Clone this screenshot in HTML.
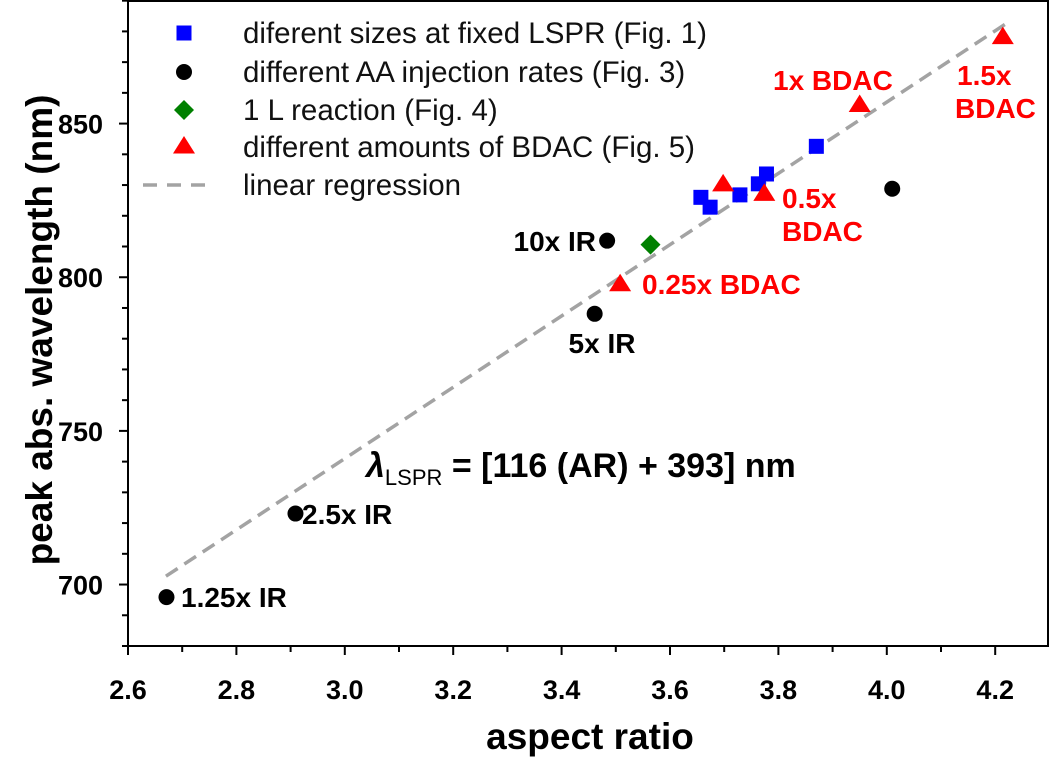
<!DOCTYPE html>
<html><head><meta charset="utf-8"><style>
html,body{margin:0;padding:0;background:#fff;}
svg{display:block;font-family:"Liberation Sans",Arial,sans-serif;}
</style></head><body>
<svg id="chart" width="1050" height="757" viewBox="0 0 1050 757" xmlns="http://www.w3.org/2000/svg"></svg>
<script>
const xTicks=[2.6,2.8,3.0,3.2,3.4,3.6,3.8,4.0,4.2];
const xTickLabels=["2.6","2.8","3.0","3.2","3.4","3.6","3.8","4.0","4.2"];
const yTicks=[700,750,800,850];
const yTickLabels=["700","750","800","850"];
const sizesX=[3.657,3.674,3.729,3.763,3.778,3.870];
const sizesY=[826.0,822.8,826.8,830.4,833.6,842.6];
const rateX=[2.671,2.909,3.461,3.484,4.010];
const rateY=[695.9,723.1,788.1,811.9,828.8];
const rxnX=[3.564];
const rxnY=[810.6];
const bdacX=[3.508,3.698,3.774,3.950,4.214];
const bdacY=[797.9,830.4,827.3,856.2,878.3];
const regSlope=116, regIntercept=393, regRange=[2.67,4.22];

const NS="http://www.w3.org/2000/svg";
const svg=document.getElementById('chart');
const X0=128,X1=1048,Y0=646,Y1=1;
const xMin=2.6,xPerPx=542;
const yMin=680,yPx=3.073;
const sx=v=>X0+(v-xMin)*xPerPx;
const sy=v=>Y0-(v-yMin)*yPx;
function mk(tag,attrs,parent){const e=document.createElementNS(NS,tag);for(const k in attrs)e.setAttribute(k,attrs[k]);(parent||svg).appendChild(e);return e;}
function txt(s,attrs,parent){const e=mk('text',attrs,parent);e.textContent=s;return e;}

let frame=mk('rect',{x:X0,y:Y1,width:X1-X0,height:Y0-Y1,fill:'none',stroke:'#000','stroke-width':2});



const xAxis=mk('g',{});


for(let i=0;i<=17;i++){const v=2.6+i*0.1;const px=sx(v);if(px>X1+1)break;const major=i%2===0;
 mk('line',{x1:px,y1:Y0,x2:px,y2:Y0+(major?9:6),stroke:'#000','stroke-width':2},xAxis);}
xTicks.forEach((v,i)=>{const t=txt(xTickLabels[i],{x:sx(v),y:699,'text-anchor':'middle','font-size':27,'font-weight':'bold',fill:'#000'},xAxis);
 
 });
const yAxis=mk('g',{});


for(let v=680;v<=890;v+=10){const py=sy(v);mk('line',{x1:X0-(v%50===0?9:6),y1:py,x2:X0,y2:py,stroke:'#000','stroke-width':2},yAxis);}
yTicks.forEach((v,i)=>{const t=txt(yTickLabels[i],{x:103,y:sy(v)+10,'text-anchor':'end','font-size':27,'font-weight':'bold',fill:'#000'},yAxis);
 
 });

let xt=txt('aspect ratio',{x:590,y:749,'text-anchor':'middle','font-size':37,'font-weight':'bold',fill:'#000'});


let yt=txt('peak abs. wavelength (nm)',{x:0,y:0,transform:'translate(52,330) rotate(-90)','text-anchor':'middle','font-size':37,'font-weight':'bold',fill:'#000'});



let reg=mk('line',{x1:sx(regRange[0]),y1:sy(regSlope*regRange[0]+regIntercept),x2:sx(regRange[1]),y2:sy(regSlope*regRange[1]+regIntercept),stroke:'#a3a3a3','stroke-width':3.5,'stroke-dasharray':'14 8'});



function square(cx,cy,s,c,p){return mk('rect',{x:cx-s/2,y:cy-s/2,width:s,height:s,fill:c},p);}
function circle(cx,cy,r,c,p){return mk('circle',{cx:cx,cy:cy,r:r,fill:c},p);}
function diamond(cx,cy,r,c,p){return mk('polygon',{points:`${cx},${cy-r} ${cx+r},${cy} ${cx},${cy+r} ${cx-r},${cy}`,fill:c},p);}
function tri(cx,cy,r,c,p){return mk('polygon',{points:`${cx},${cy-r} ${cx+r*1.1},${cy+r*0.75} ${cx-r*1.1},${cy+r*0.75}`,fill:c},p);}

sizesX.forEach((v,i)=>{const e=square(sx(v),sy(sizesY[i]),15,'#0000ff');
 
 });
rateX.forEach((v,i)=>{const e=circle(sx(v),sy(rateY[i]),8,'#000');
 
 });
rxnX.forEach((v,i)=>{const e=diamond(sx(v),sy(rxnY[i]),10,'#008000');
 
 });
bdacX.forEach((v,i)=>{const e=tri(sx(v),sy(bdacY[i]),10,'#ff0000');
 
 });

const ann=[['1.25x IR',181,607,'start','#000'],['2.5x IR',302,524,'start','#000'],['10x IR',596,251,'end','#000'],['5x IR',602,353,'middle','#000'],
['0.25x BDAC',642,294,'start','#f00'],['0.5x',782,208,'start','#f00'],['BDAC',782,241,'start','#f00'],['1x BDAC',773,90,'start','#f00'],['1.5x',957,85,'start','#f00'],['BDAC',955,118,'start','#f00']];
ann.forEach(a=>{const t=txt(a[0],{x:a[1],y:a[2],'text-anchor':a[3],'font-size':28,'font-weight':'bold',fill:a[4]});
 
 });

const eq=mk('text',{x:366,y:477,'font-size':34,'font-weight':'bold',fill:'#000'});


eq.innerHTML='<tspan font-style="italic">λ</tspan><tspan font-size="22" dy="8" font-weight="normal">LSPR</tspan><tspan dy="-8"> = [116 (AR) + 393] nm</tspan>';

const lg=mk('g',{});


const rows=[33,72,110,147,185];
const labels=['diferent sizes at fixed LSPR (Fig. 1)','different AA injection rates (Fig. 3)','1 L reaction (Fig. 4)','different amounts of BDAC (Fig. 5)','linear regression'];
square(184,rows[0],15,'#0000ff',lg);
circle(184,rows[1],8,'#000',lg);
diamond(184,rows[2],10,'#008000',lg);
tri(184,rows[3]-1,10,'#ff0000',lg);
mk('line',{x1:143,y1:rows[4],x2:215,y2:rows[4],stroke:'#a3a3a3','stroke-width':3.5,'stroke-dasharray':'14 10'},lg);
labels.forEach((s,i)=>{const t=txt(s,{x:243,y:rows[i]+10,'font-size':29.5,fill:'#111'},lg);
 
 });
</script>
</body></html>
